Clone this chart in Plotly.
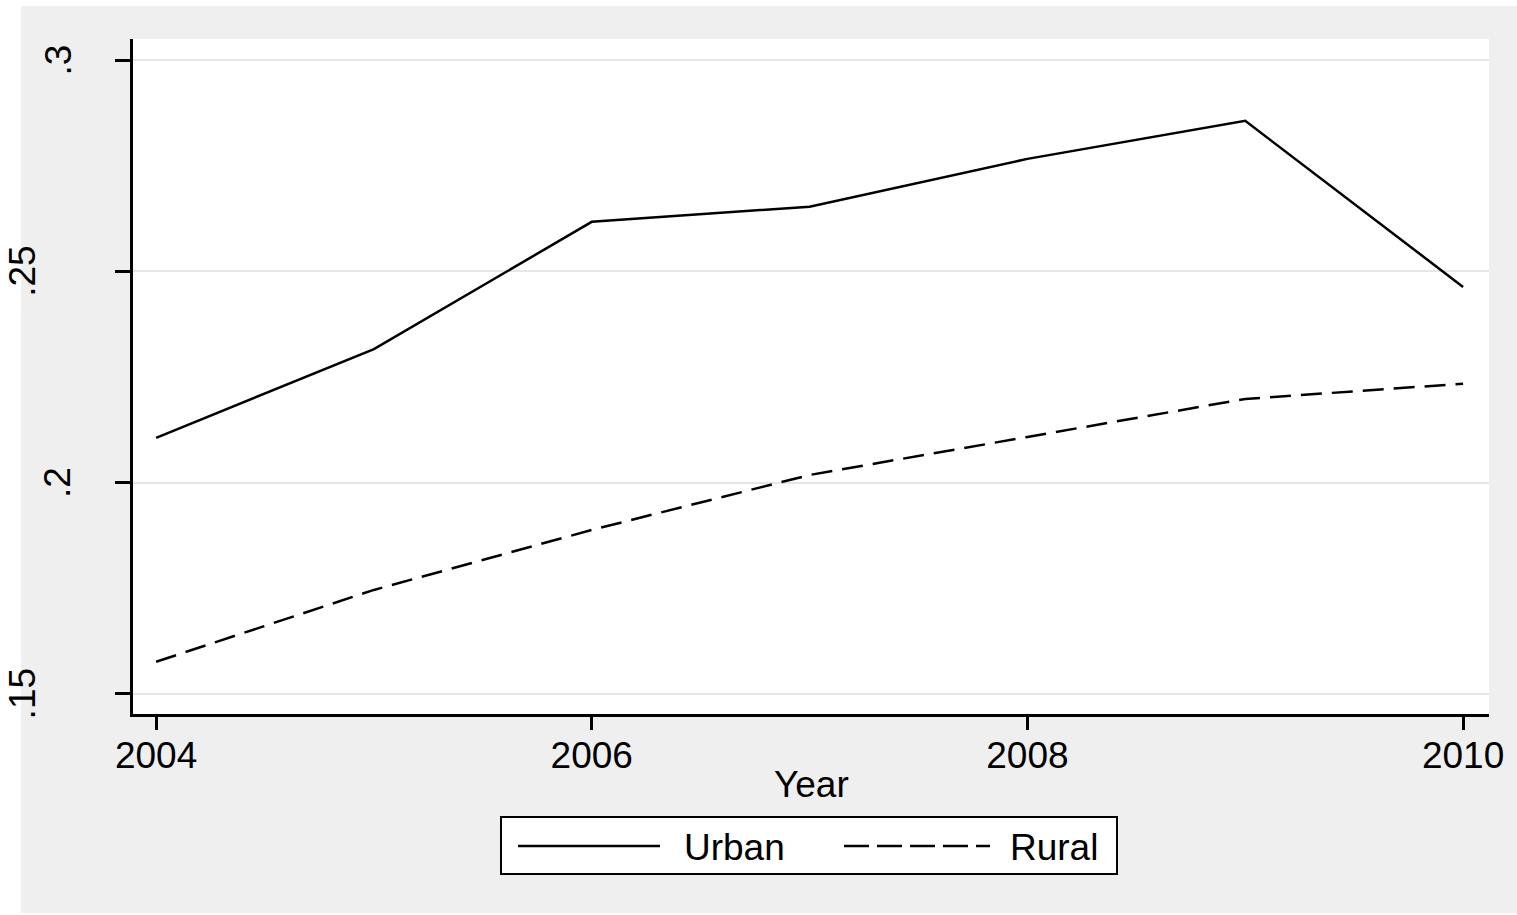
import plotly.graph_objects as go

# Share of households by area, 2004-2010
years = [2004, 2005, 2006, 2007, 2008, 2009, 2010]
urban = [0.2106, 0.2316, 0.2617, 0.2653, 0.2766, 0.2856, 0.2463]
rural = [0.1576, 0.1746, 0.1888, 0.2018, 0.2108, 0.2198, 0.2234]

y_tickvals = [0.15, 0.20, 0.25, 0.30]
y_ticktext = [".15", ".2", ".25", ".3"]
x_tickvals = [2004, 2006, 2008, 2010]
x_ticktext = ["2004", "2006", "2008", "2010"]

W, H = 1517, 915
L, R, T, B = 133, 28, 39, 201
FONT = "Liberation Sans, Arial, sans-serif"
FS = 37
BG = "#efefef"
DASH = "21px,10px"


def px(x):
    """Page x pixel -> paper coordinate."""
    return (x - L) / (W - L - R)


def py(y):
    """Page y pixel -> paper coordinate."""
    return (H - B - y) / (H - T - B)


fig = go.Figure()
fig.add_trace(go.Scatter(x=years, y=urban, mode="lines", name="Urban",
                         line=dict(color="black", width=2.5), showlegend=False))
fig.add_trace(go.Scatter(x=years, y=rural, mode="lines", name="Rural",
                         line=dict(color="black", width=2.5, dash=DASH),
                         showlegend=False))

shapes = [
    # white page edges around the grey graph region
    dict(type="rect", xref="paper", yref="paper", x0=px(0), x1=px(21), y0=py(H), y1=py(0),
         fillcolor="white", line=dict(width=0), layer="below"),
    dict(type="rect", xref="paper", yref="paper", x0=px(0), x1=px(W), y0=py(6), y1=py(0),
         fillcolor="white", line=dict(width=0), layer="below"),
    dict(type="rect", xref="paper", yref="paper", x0=px(0), x1=px(W), y0=py(H), y1=py(913),
         fillcolor="white", line=dict(width=0), layer="below"),
    # legend box and keys
    dict(type="rect", xref="paper", yref="paper", x0=px(501), x1=px(1117), y0=py(874), y1=py(817),
         fillcolor="white", line=dict(color="black", width=2)),
    dict(type="line", xref="paper", yref="paper", x0=px(518), x1=px(660), y0=py(846), y1=py(846),
         line=dict(color="black", width=2.5)),
    dict(type="line", xref="paper", yref="paper", x0=px(844), x1=px(990), y0=py(846), y1=py(846),
         line=dict(color="black", width=2.5, dash="25px,8px")),
]

annotations = [
    dict(text="Urban", xref="paper", yref="paper", x=px(682), y=py(847),
         xanchor="left", yanchor="middle", showarrow=False,
         font=dict(family=FONT, size=FS, color="black")),
    dict(text="Rural", xref="paper", yref="paper", x=px(1008), y=py(847),
         xanchor="left", yanchor="middle", showarrow=False,
         font=dict(family=FONT, size=FS, color="black")),
    dict(text="Year", xref="paper", yref="paper", x=0.5, y=py(784),
         xanchor="center", yanchor="middle", showarrow=False,
         font=dict(family=FONT, size=FS, color="black")),
]

# vertical y-axis labels; longer labels sit further out from the axis
for val, txt in zip(y_tickvals, y_ticktext):
    right_edge = 80 if len(txt) <= 2 else 45
    annotations.append(dict(
        text=txt, xref="paper", yref="y", x=px(right_edge), y=val,
        xanchor="right", yanchor="middle", textangle=-90, showarrow=False,
        font=dict(family=FONT, size=FS, color="black")))

fig.update_layout(
    width=W, height=H,
    margin=dict(l=L, r=R, t=T, b=B, pad=0),
    paper_bgcolor=BG,
    plot_bgcolor="white",
    font=dict(family=FONT, size=FS, color="black"),
    shapes=shapes,
    annotations=annotations,
    showlegend=False,
)

fig.update_xaxes(
    range=[2003.894, 2010.119],
    tickvals=x_tickvals, ticktext=x_ticktext,
    ticks="outside", ticklen=13, tickwidth=2.5, tickcolor="black",
    ticklabelstandoff=-6,
    showline=True, linecolor="black", linewidth=2.5,
    showgrid=False, zeroline=False,
    tickfont=dict(family=FONT, size=FS),
)

fig.update_yaxes(
    range=[0.14524, 0.30497],
    tickvals=y_tickvals, showticklabels=False,
    ticks="outside", ticklen=15, tickwidth=2.5, tickcolor="black",
    showline=True, linecolor="black", linewidth=2.5,
    showgrid=True, gridcolor="#e6e6e6", gridwidth=2,
    zeroline=False,
)

fig.write_html("out.html")
